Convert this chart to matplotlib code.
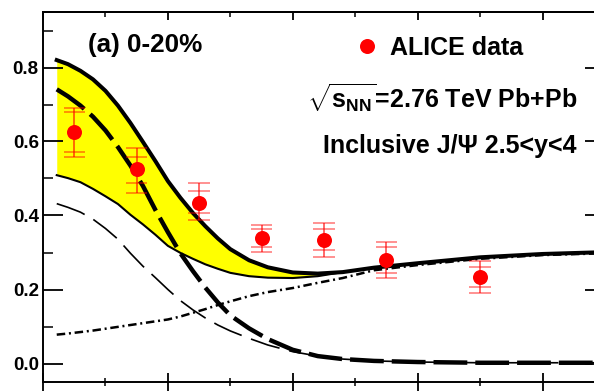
import numpy as np
import matplotlib
matplotlib.use("Agg")
import matplotlib.pyplot as plt
from matplotlib.lines import Line2D
from matplotlib.ticker import MultipleLocator, FormatStrFormatter

plt.rcParams["font.family"] = ["Liberation Sans", "DejaVu Sans"]
plt.rcParams["font.weight"] = "bold"
plt.rcParams["mathtext.fontset"] = "custom"
plt.rcParams["mathtext.rm"] = "Liberation Sans:bold"
plt.rcParams["mathtext.it"] = "Liberation Sans:bold"
plt.rcParams["mathtext.bf"] = "Liberation Sans:bold"

# ALICE inclusive J/psi R_AA vs pT, 0-20%, 2.5<y<4
pt = [0.5, 1.5, 2.5, 3.5, 4.5, 5.5, 7.0]
raa = [0.625, 0.525, 0.434, 0.339, 0.334, 0.280, 0.234]
stat_hi = [0.690, 0.582, 0.487, 0.374, 0.380, 0.329, 0.277]
sys_hi = [0.679, 0.558, 0.465, 0.364, 0.364, 0.315, 0.261]
sys_lo = [0.571, 0.488, 0.406, 0.315, 0.307, 0.245, 0.207]
stat_lo = [0.558, 0.462, 0.387, 0.302, 0.288, 0.232, 0.191]

# model curves
curve_pt = [0.22, 0.4, 0.6, 0.8, 1.0, 1.2, 1.4, 1.6, 1.8, 2.0, 2.2, 2.4, 2.6,
            2.8, 3.0, 3.3, 3.6, 4.0, 4.4, 4.8, 5.3, 6.0, 7.0, 8.0, 9.0]
band_hi = [0.820, 0.809, 0.791, 0.768, 0.737, 0.697, 0.650, 0.599, 0.547,
           0.493, 0.448, 0.407, 0.371, 0.338, 0.309, 0.279, 0.260, 0.246,
           0.243, 0.247, 0.259, 0.271, 0.287, 0.296, 0.301]
band_lo = [0.509, 0.501, 0.490, 0.472, 0.452, 0.431, 0.402, 0.376, 0.348,
           0.318, 0.299, 0.283, 0.268, 0.256, 0.245, 0.236, 0.232, 0.231,
           0.236, 0.247, 0.259, 0.271, 0.287, 0.296, 0.301]
prim_thick = [0.741, 0.722, 0.697, 0.667, 0.630, 0.585, 0.535, 0.480, 0.415,
              0.355, 0.298, 0.250, 0.205, 0.165, 0.130, 0.095, 0.066, 0.037,
              0.020, 0.012, 0.007, 0.004, 0.002, 0.002, 0.002]
prim_thin = [0.432, 0.422, 0.409, 0.390, 0.365, 0.336, 0.298, 0.263, 0.232,
             0.200, 0.170, 0.145, 0.123, 0.104, 0.088, 0.068, 0.050, 0.032,
             0.020, 0.012, 0.007, 0.004, 0.002, 0.002, 0.002]
regen = [0.078, 0.081, 0.085, 0.089, 0.094, 0.099, 0.104, 0.109, 0.114,
         0.119, 0.127, 0.137, 0.147, 0.158, 0.168, 0.182, 0.193, 0.204,
         0.218, 0.231, 0.252, 0.266, 0.283, 0.293, 0.298]

CAP_HW = 0.17
RED = "#ff0000"

fig = plt.figure(figsize=(5.94, 3.92), dpi=100)
ax = fig.add_axes([43 / 594, 10 / 392, 562 / 594, 370 / 392])

ax.fill_between(curve_pt, band_lo, band_hi, color="#ffff00", lw=0, zorder=1)
ax.plot(curve_pt, band_lo, color="black", lw=1.5, zorder=2)
ax.plot(curve_pt, band_hi, color="black", lw=2.9, zorder=3)
ax.plot(curve_pt, prim_thick, color="black", lw=3.2, ls=(0, (7.6, 1.8)), zorder=3)
ax.plot(curve_pt, prim_thin, color="black", lw=1.2, ls=(0, (18, 6)), zorder=2)
ax.plot(curve_pt, regen, color="black", lw=1.8, ls=(0, (3.4, 1.5, 0.8, 1.5)), zorder=2)

# data: stat stem, stat + syst caps, marker
x = np.array(pt)
ax.vlines(x, stat_lo, stat_hi, color=RED, lw=1.1, alpha=0.75, zorder=5)
for lev in (stat_hi, sys_hi, sys_lo, stat_lo):
    ax.hlines(lev, x - CAP_HW, x + CAP_HW, color=RED, lw=1.2, alpha=0.5, zorder=5)
ax.plot(x, raa, "o", color=RED, ms=10.8, mec="none", zorder=6)

ax.set_xlim(0, 9)
ax.set_ylim(-0.05, 0.95)
ax.xaxis.set_major_locator(MultipleLocator(2))
ax.xaxis.set_minor_locator(MultipleLocator(1))
ax.yaxis.set_major_locator(MultipleLocator(0.2))
ax.yaxis.set_minor_locator(MultipleLocator(0.1))
ax.yaxis.set_major_formatter(FormatStrFormatter("%.1f"))

ax.tick_params(axis="y", which="major", direction="in", length=14.4, width=1.3,
               left=True, right=True, labelsize=13.5, pad=3)
ax.tick_params(axis="y", which="minor", direction="in", length=7.2, width=1.1,
               left=True, right=True)
ax.tick_params(axis="x", which="major", direction="inout", length=13, width=1.3,
               bottom=True, top=False, labelbottom=False)
ax.tick_params(axis="x", which="minor", direction="inout", length=6, width=1.1,
               bottom=True, top=False)
for sp in ax.spines.values():
    sp.set_linewidth(1.4)

top = ax.secondary_xaxis("top")
top.xaxis.set_major_locator(MultipleLocator(2))
top.xaxis.set_minor_locator(MultipleLocator(1))
top.tick_params(axis="x", which="major", direction="in", length=6, width=1.3, labeltop=False)
top.tick_params(axis="x", which="minor", direction="in", length=3.6, width=1.1)
top.spines["top"].set_linewidth(1.4)

ax.text(0.080, 0.911, "(a) 0-20%", transform=ax.transAxes, fontsize=18.8,
        fontweight="bold", ha="left", va="center")
ax.text(0.950, 0.766, r"$\sqrt{s_{NN}}$=2.76 TeV Pb+Pb", transform=ax.transAxes,
        fontsize=18, fontweight="bold", ha="right", va="center")
ax.text(0.950, 0.637, "Inclusive J/\u03a8 2.5<y<4", transform=ax.transAxes,
        fontsize=18, fontweight="bold", ha="right", va="center")

handle = Line2D([], [], marker="o", ls="none", color=RED, ms=10.8, mec="none")
ax.legend([handle], ["ALICE data"], loc="center left", bbox_to_anchor=(0.5543, 0.903),
          frameon=False, borderpad=0, borderaxespad=0, handlelength=1.0,
          handletextpad=0.42, prop={"size": 18, "weight": "bold"})

fig.savefig("out.png", dpi=100)
